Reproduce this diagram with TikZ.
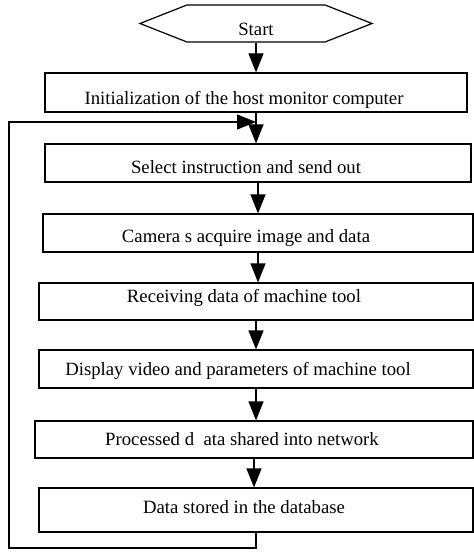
\documentclass[tikz,border=0pt]{standalone}
\usepackage{fontspec}
\setmainfont{Liberation Serif}
\usetikzlibrary{arrows.meta}
\usetikzlibrary{shapes.symbols, positioning}

\tikzset{
    procbox/.style={draw, line width=1.2bp, rectangle, inner sep=0pt,
        font=\fontsize{18.8}{22}\selectfont, text depth=0pt,
        execute at end node={\hspace*{24bp}}},
    flowarrow/.style={line width=1.2bp, -{Triangle[length=19bp, width=15bp]}},
    flowline/.style={line width=1.2bp}
}

\begin{document}
\begin{tikzpicture}[x=1bp, y=-1bp]
        \useasboundingbox (0,0) rectangle (474,552);
        % start terminal
        \node[draw, line width=1.2bp, signal, signal to=west and east, signal pointer angle=43,
            minimum width=232bp, minimum height=37bp, inner sep=0pt,
            font=\fontsize{18.8}{22}\selectfont, text height=25bp, text depth=0pt] (start) at (256,23.5) {Start};
        % process steps
        \node[procbox, minimum width=422bp, minimum height=39bp, text height=25bp] (init) at (256,92.5) {Initialization of the host monitor computer};
        \node[procbox, minimum width=426bp, minimum height=38bp, text height=22bp] (select) at (258,163) {Select instruction and send out};
        \node[procbox, minimum width=430bp, minimum height=38bp, text height=18bp] (camera) at (258,233) {Camera s acquire image and data};
        \node[procbox, minimum width=434bp, minimum height=37bp, text height=2bp] (receive) at (256,301.5) {Receiving data of machine tool};
        \node[procbox, minimum width=434bp, minimum height=38bp, text height=12bp] (display) at (256,369) {Display video and parameters of machine tool\hspace*{12bp}};
        \node[procbox, minimum width=438bp, minimum height=37bp, text height=11bp] (share) at (254,439.5) {Processed d\ \ ata shared into network};
        \node[procbox, minimum width=434bp, minimum height=44bp, text height=6bp] (store) at (256,510) {Data stored in the database};
        % arrows between steps
        \draw[flowarrow] (start.south) -- (start.south |- init.north);
        \draw[flowarrow] (init.south) -- (init.south |- select.north);
        \draw[flowarrow] (select.south) -- (select.south |- camera.north);
        \draw[flowarrow] (camera.south) -- (camera.south |- receive.north);
        \draw[flowarrow] (receive.south) -- (receive.south |- display.north);
        \draw[flowarrow] (display.south) -- (display.south |- share.north);
        \draw[flowarrow] (share.south) -- (share.south |- store.north);
        % feedback loop
        \coordinate (loopbl) at (9,548);
        \coordinate (looptl) at (9,122);
        \coordinate (join) at (init.south |- looptl);
        \draw[flowarrow] (store.south) |- (loopbl) -- (looptl) -- (join);
\end{tikzpicture}
\end{document}
